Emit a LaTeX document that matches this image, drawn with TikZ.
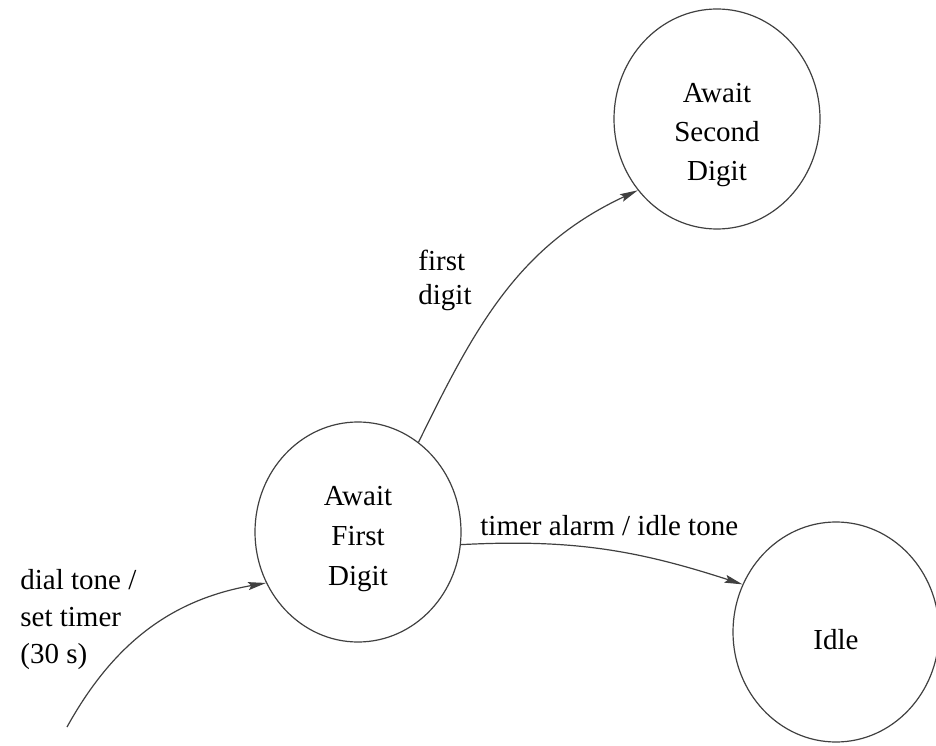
\documentclass[tikz,border=0pt]{standalone}
\usepackage{fontspec}
\setmainfont{Liberation Serif}
\usetikzlibrary{shapes.geometric,arrows.meta}
\begin{document}
\begin{tikzpicture}[x=0.5pt,y=0.5pt,
  font=\fontsize{14.5pt}{19.5pt}\selectfont,
  state/.style={ellipse,draw=black!75,line width=0.6pt,minimum width=103pt,minimum height=110pt,inner sep=0pt},
  statetext/.style={inner sep=0pt,align=center},
  trans/.style={draw=black!75,line width=0.6pt,-{Stealth[length=9pt,width=4pt,inset=1.5pt]}},
  lbl/.style={inner sep=0pt,align=left}]
\useasboundingbox (0,0) rectangle (936,745);
% states
\node[state] (second) at (717,626) {};
\node[state] (first)  at (358,213) {};
\node[state] (idle)   at (836,113) {};
\node[statetext] (secondtext) at ([yshift=-8pt]second.center) {Await\\Second\\Digit};
\node[statetext,font=\fontsize{14.5pt}{20pt}\selectfont] (firsttext) at ([yshift=-3.5pt]first.center) {Await\\First\\Digit};
\node[statetext] (idletext) at ([yshift=-4pt]idle.center) {Idle};
\coordinate (entry) at (67,18);
% transitions
\draw[trans] (entry) to[out=61,in=190] (first.209);
\draw[trans] (first.56) to[out=64,in=205] (second.222);
\draw[trans] (first.-7) to[out=3,in=162] (idle.153);
% transition labels
\node[lbl,anchor=north west,font=\fontsize{14.5pt}{17pt}\selectfont] (lfirst) at (418,495) {first\\digit};
\node[lbl,anchor=base west] (ltimer) at (480,210) {timer alarm / idle tone};
\node[lbl,anchor=north west,font=\fontsize{14.5pt}{18.5pt}\selectfont] (ldial) at (20,176) {dial tone /\\set timer\\(30 s)};
\end{tikzpicture}
\end{document}
